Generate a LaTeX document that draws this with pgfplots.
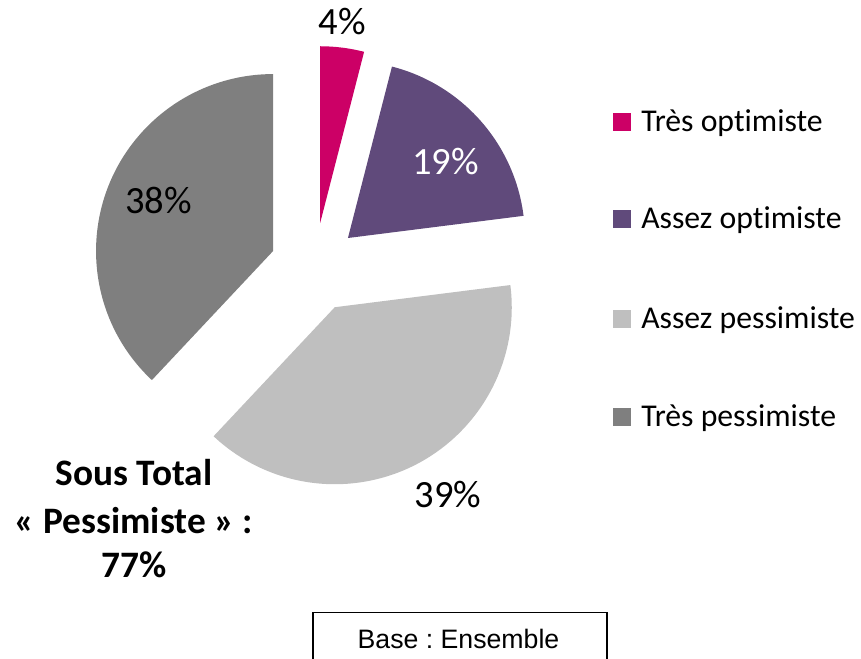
\documentclass[border=0pt]{standalone}
\usepackage{pgfplots}
\pgfplotsset{compat=1.18}
\usepackage{pgfplotstable}
\usepackage{fontspec}
\setmainfont[Ligatures={NoCommon}]{Carlito}
\newfontfamily\arialfont{Liberation Sans}
\definecolor{cpink}{RGB}{204,0,102}
\definecolor{cpurple}{RGB}{96,74,123}
\definecolor{clight}{RGB}{191,191,191}
\definecolor{cdark}{RGB}{127,127,127}
\frenchspacing

% value, slice colour, label position (px from left, baseline px from top), label colour, legend row centre
\pgfplotstableread{
value scol lx ly lcol legy name
4  cpink   342.5 35    black 122   {Très optimiste}
19 cpurple 445.5 175   white 219.5 {Assez optimiste}
39 clight  448   507.5 black 319.5 {Assez pessimiste}
38 cdark   158.5 214   black 417.5 {Très pessimiste}
}\piedata

\begin{document}
\begin{tikzpicture}
\useasboundingbox (0,0) rectangle (645.75pt,494.25pt);
\begin{axis}[x=0.75pt,y=0.75pt,xmin=0,xmax=861,ymin=0,ymax=659,
  hide axis, clip=false, anchor=origin, at={(0,0)}]
\pgfplotsextra{
  \def\cum{0}
  \pgfplotsforeachungrouped \i in {0,...,3} {
    \pgfplotstablegetelem{\i}{value}\of\piedata \let\sv\pgfplotsretval
    \pgfplotstablegetelem{\i}{scol}\of\piedata \let\scl\pgfplotsretval
    \pgfplotstablegetelem{\i}{lx}\of\piedata \let\slx\pgfplotsretval
    \pgfplotstablegetelem{\i}{ly}\of\piedata \let\sly\pgfplotsretval
    \pgfplotstablegetelem{\i}{lcol}\of\piedata \let\slc\pgfplotsretval
    \pgfplotstablegetelem{\i}{legy}\of\piedata \let\sleg\pgfplotsretval
    \pgfplotstablegetelem{\i}{name}\of\piedata \let\sname\pgfplotsretval
    \pgfmathsetmacro\sa{90-3.6*\cum}
    \pgfmathsetmacro\sb{\sa-3.6*\sv}
    \pgfmathsetmacro\sm{(\sa+\sb)/2}
    \fill[fill=\scl] (axis cs:314.5,391.5) ++(\sm:33.45pt) -- ++(\sa:132.75pt)
       arc[start angle=\sa,end angle=\sb,radius=132.75pt] -- cycle;
    \pgfmathsetmacro\slyy{659-\sly}
    \node[anchor=base,text=\slc,font=\fontsize{28.9}{34}\selectfont,inner sep=0pt]
       at (axis cs:\slx,\slyy) {\sv\%};
    \pgfmathsetmacro\sqt{659-\sleg+9}
    \pgfmathsetmacro\sqb{659-\sleg-9}
    \fill[fill=\scl] (axis cs:613,\sqb) rectangle (axis cs:631,\sqt);
    \pgfmathsetmacro\stb{659-\sleg-9.5}
    \node[anchor=base west,inner sep=0pt,font=\fontsize{23.8}{28}\selectfont]
       at (axis cs:641,\stb) {\sname};
    \pgfmathsetmacro\cum{\cum+\sv}
  }
  \node[anchor=base,inner sep=0pt,font=\bfseries\fontsize{28}{32}\selectfont]
     at (axis cs:134,173) {Sous Total};
  \node[anchor=base,inner sep=0pt,font=\bfseries\fontsize{28}{32}\selectfont]
     at (axis cs:134,125) {« Pessimiste » :};
  \node[anchor=base,inner sep=0pt,font=\bfseries\fontsize{28}{32}\selectfont]
     at (axis cs:134,81) {77\%};
  \draw[line width=1.1pt] (axis cs:313,-20) rectangle (axis cs:607,46.7);
  \node[anchor=base,inner sep=0pt,font=\arialfont\fontsize{20}{24}\selectfont]
     at (axis cs:458.5,10) {Base : Ensemble};
}
\end{axis}
\end{tikzpicture}
\end{document}
